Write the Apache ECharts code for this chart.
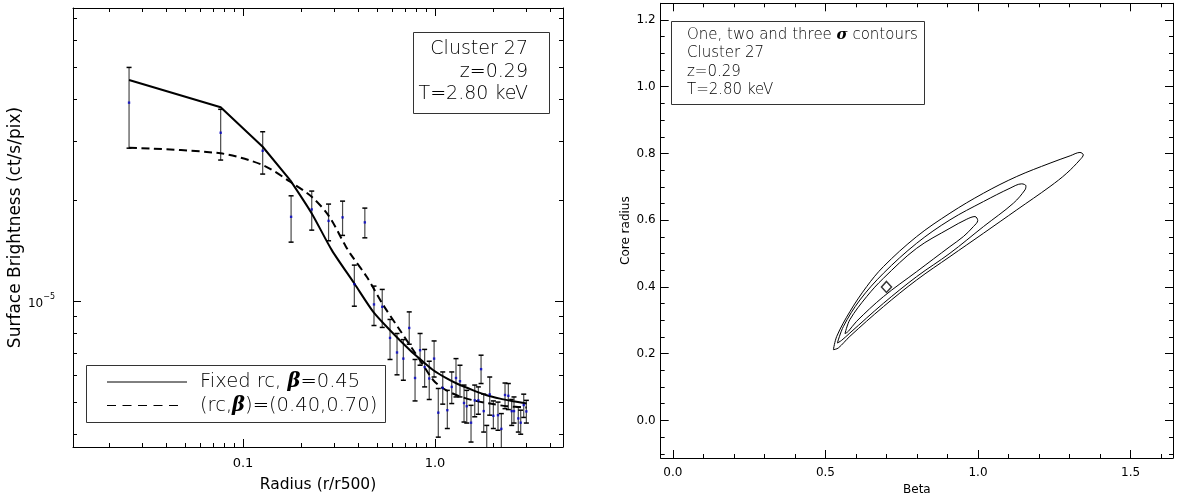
<!DOCTYPE html>
<html><head><meta charset="utf-8">
<script src="https://cdn.jsdelivr.net/npm/echarts@6/dist/echarts.min.js"></script>
<style>html,body{margin:0;padding:0;background:#fff}#c{width:1177px;height:501px}</style>
</head><body><div id="c"></div>
<script>
// ---------- Left panel: surface brightness profile (values in units of 1e-5 ct/s/pix) ----------
const SB_UNIT = 1e-5;
const radius = [0.0255, 0.0765, 0.1266, 0.178, 0.228, 0.279, 0.330, 0.380, 0.431, 0.481,
  0.531, 0.583, 0.634, 0.684, 0.734, 0.787, 0.836, 0.883, 0.933, 0.989,
  1.04, 1.097, 1.159, 1.222, 1.286, 1.349, 1.416, 1.463, 1.540, 1.610,
  1.681, 1.737, 1.793, 1.859, 1.927, 2.013, 2.128, 2.215, 2.315, 2.409,
  2.508, 2.578, 2.715, 2.794, 2.897, 2.99];
const sbMid = [3.91, 3.18, 2.81, 1.785, 1.878, 1.736, 1.778, 1.124, 1.718, 0.978,
  0.962, 0.777, 0.703, 0.674, 0.832, 0.590, 0.714, 0.636, 0.588, 0.674,
  0.465, 0.551, 0.473, 0.555, 0.590, 0.577, 0.497, 0.486, 0.434, 0.506,
  0.506, 0.627, 0.470, 0.367, 0.527, 0.455, 0.457, 0.416, 0.525, 0.522,
  0.470, 0.470, 0.447, 0.434, 0.490, 0.469];
const sbHigh = [4.98, 3.735, 3.202, 2.062, 2.130, 1.948, 1.988, 1.281, 1.895, 1.109,
  1.084, 0.882, 0.801, 0.768, 0.929, 0.670, 0.801, 0.718, 0.662, 0.761,
  0.549, 0.615, 0.542, 0.615, 0.674, 0.644, 0.562, 0.542, 0.489, 0.562,
  0.555, 0.690, 0.528, 0.426, 0.594, 0.504, 0.500, 0.462, 0.570, 0.568,
  0.509, 0.518, 0.484, 0.473, 0.528, 0.506];
const sbLow = [2.86, 2.636, 2.394, 1.500, 1.629, 1.514, 1.571, 0.966, 1.545, 0.846,
  0.835, 0.670, 0.603, 0.581, 0.744, 0.504, 0.644, 0.555, 0.509, 0.594,
  0.393, 0.493, 0.417, 0.495, 0.518, 0.518, 0.436, 0.433, 0.380, 0.452,
  0.460, 0.568, 0.407, 0.330, 0.457, 0.417, 0.412, 0.360, 0.478, 0.475,
  0.426, 0.433, 0.407, 0.401, 0.450, 0.433];
// model curves
const fixedR = [0.0255, 0.0765, 0.1266, 0.176, 0.228, 0.290, 0.380, 0.477, 0.583, 0.741,
  0.869, 0.980, 1.151, 1.297, 1.583, 1.859, 2.18, 2.557, 3.0];
const fixedS = [4.567, 3.787, 2.888, 2.297, 1.827, 1.420, 1.129, 0.929, 0.819, 0.714,
  0.659, 0.622, 0.588, 0.568, 0.542, 0.524, 0.512, 0.503, 0.495];
const fitR = [0.0255, 0.0765, 0.1266, 0.176, 0.228, 0.279, 0.340, 0.361, 0.441, 0.538,
  0.657, 0.771, 0.869, 0.980, 1.105, 1.297, 1.583, 1.934, 2.362, 3.0];
const fitS = [2.869, 2.760, 2.547, 2.271, 2.048, 1.800, 1.470, 1.388, 1.182, 0.973,
  0.819, 0.714, 0.644, 0.581, 0.549, 0.524, 0.506, 0.495, 0.486, 0.482];

const leftXMajor = [0.1, 1.0];
const leftXMajorLabels = ['0.1', '1.0'];
const leftXMinor = [0.02,0.03,0.04,0.05,0.06,0.07,0.08,0.09,0.2,0.3,0.4,0.5,0.6,0.7,0.8,0.9,2,3,4];
const leftYMajor = [1e-5];
const leftYMinor = [4e-6,5e-6,6e-6,7e-6,8e-6,9e-6,2e-5,3e-5,4e-5,5e-5,6e-5,7e-5];

// ---------- Right panel: confidence contours ----------
const c3Beta = [0.526,0.537,0.580,0.635,0.690,0.799,0.908,1.018,1.127,1.236,1.302,1.334,1.345,1.334,1.291,1.236,1.127,1.018,0.908,0.799,0.690,0.580,0.542,0.526];
const c3Rc   = [0.212,0.252,0.326,0.401,0.461,0.551,0.621,0.681,0.731,0.771,0.793,0.803,0.796,0.781,0.741,0.701,0.631,0.561,0.491,0.421,0.341,0.252,0.217,0.212];
const c2Beta = [0.539,0.559,0.613,0.690,0.799,0.908,1.018,1.105,1.143,1.157,1.154,1.116,1.018,0.908,0.799,0.690,0.580,0.553,0.539];
const c2Rc   = [0.232,0.282,0.361,0.441,0.531,0.601,0.656,0.696,0.709,0.703,0.691,0.651,0.581,0.501,0.431,0.351,0.262,0.240,0.232];
const c1Beta = [0.564,0.580,0.635,0.690,0.799,0.908,0.963,0.990,0.999,0.985,0.952,0.908,0.799,0.690,0.602,0.575,0.564];
const c1Rc   = [0.260,0.302,0.371,0.426,0.516,0.576,0.603,0.611,0.599,0.581,0.551,0.521,0.446,0.371,0.297,0.267,0.260];
const bestBeta = [0.70];
const bestRc = [0.40];

const rightXMajor = [0, 0.5, 1.0, 1.5];
const rightXMajorLabels = ['0.0', '0.5', '1.0', '1.5'];
const rightXMinor = [0.1,0.2,0.3,0.4,0.6,0.7,0.8,0.9,1.1,1.2,1.3,1.4,1.6];
const rightYMajor = [0, 0.2, 0.4, 0.6, 0.8, 1.0, 1.2];
const rightYMajorLabels = ['0.0', '0.2', '0.4', '0.6', '0.8', '1.0', '1.2'];
const rightYMinor = [-0.1,-0.05,0.05,0.1,0.15,0.25,0.3,0.35,0.45,0.5,0.55,0.65,0.7,0.75,0.85,0.9,0.95,1.05,1.1,1.15];

// ---------- helpers ----------
const AX_FONT = "'DejaVu Sans', sans-serif";
function axesFor(dim, gridIndex, type, min, max, major, minor, labelOpt, nameOpt) {
  const sides = dim === 'x' ? ['bottom', 'top'] : ['left', 'right'];
  const out = [];
  sides.forEach((pos, si) => {
    const base = {
      type: type, gridIndex: gridIndex, min: min, max: max, position: pos,
      splitLine: { show: false }, minorTick: { show: false },
      axisPointer: { show: false }
    };
    if (type === 'log') base.logBase = 10;
    const majorAx = Object.assign({}, base, {
      axisLine: { show: true, onZero: false, lineStyle: { color: '#000', width: 1 } },
      axisTick: { show: true, inside: true, length: 8, customValues: major, lineStyle: { color: '#000', width: 1 } },
      axisLabel: si === 0 ? Object.assign({ show: true, customValues: major, fontFamily: AX_FONT, color: '#000' }, labelOpt) : { show: false }
    });
    if (si === 0 && nameOpt) Object.assign(majorAx, nameOpt);
    out.push(majorAx);
    out.push(Object.assign({}, base, {
      axisLine: { show: false, onZero: false },
      axisTick: { show: true, inside: true, length: 4, customValues: minor, lineStyle: { color: '#000', width: 1 } },
      axisLabel: { show: false }
    }));
  });
  return out;
}
const pick = (vals, labels) => v => labels[vals.findIndex(m => Math.abs(m - v) < 1e-9)] || '';

const xAxes = [].concat(
  axesFor('x', 0, 'log', 0.01302, 4.64, leftXMajor, leftXMinor,
    { fontSize: 13, margin: 10, formatter: pick(leftXMajor, leftXMajorLabels) },
    { name: 'Radius (r/r500)', nameLocation: 'middle', nameGap: 30, nameTextStyle: { fontFamily: AX_FONT, fontSize: 15.5, color: '#000' } }),
  axesFor('x', 1, 'value', -0.04, 1.639, rightXMajor, rightXMinor,
    { fontSize: 12, margin: 9, formatter: pick(rightXMajor, rightXMajorLabels) },
    { name: 'Beta', nameLocation: 'middle', nameGap: 26, nameTextStyle: { fontFamily: AX_FONT, fontSize: 12, color: '#000' } })
);
const yAxes = [].concat(
  axesFor('y', 0, 'log', 3.673e-6, 7.49e-5, leftYMajor, leftYMinor,
    { margin: 18, formatter: () => '{a|10}{b|\u22125}', rich: { a: { fontFamily: AX_FONT, fontSize: 12, lineHeight: 17, verticalAlign: 'bottom', color: '#000' }, b: { fontFamily: AX_FONT, fontSize: 8, lineHeight: 17, verticalAlign: 'top', color: '#000' } } },
    { name: 'Surface Brightness (ct/s/pix)', nameLocation: 'middle', nameGap: 46, nameTextStyle: { fontFamily: AX_FONT, fontSize: 17, color: '#000' } }),
  axesFor('y', 1, 'value', -0.1126, 1.25, rightYMajor, rightYMinor,
    { fontSize: 12, margin: 5, formatter: pick(rightYMajor, rightYMajorLabels) },
    { name: 'Core radius', nameLocation: 'middle', nameGap: 29, nameTextStyle: { fontFamily: AX_FONT, fontSize: 12, color: '#000' } })
);
// axis indices: left grid x main = 0, right grid x main = 4; same for y
const LX = 0, RX = 4, LY = 0, RY = 4;

function pairs(xs, ys, scale) { return xs.map((x, i) => [x, ys[i] * (scale || 1)]); }

const errData = radius.map((r, i) => [r, sbLow[i] * SB_UNIT, sbHigh[i] * SB_UNIT]);
const fixedPts = pairs(fixedR, fixedS, SB_UNIT);

const series = [
  {
    type: 'custom', name: 'errors', xAxisIndex: LX, yAxisIndex: LY, clip: true,
    encode: { x: 0, y: [1, 2] }, data: errData, z: 3,
    renderItem: function (params, api) {
      const x = api.value(0), lo = api.value(1), hi = api.value(2);
      const pL = api.coord([x, lo]), pH = api.coord([x, hi]);
      const hw = 2.5;
      return { type: 'group', children: [
        { type: 'line', shape: { x1: pL[0], y1: pL[1], x2: pH[0], y2: pH[1] }, style: { stroke: '#4a4a4a', lineWidth: 1.2 } },
        { type: 'line', shape: { x1: pH[0] - hw, y1: pH[1], x2: pH[0] + hw, y2: pH[1] }, style: { stroke: '#000', lineWidth: 1.5 } },
        { type: 'line', shape: { x1: pL[0] - hw, y1: pL[1], x2: pL[0] + hw, y2: pL[1] }, style: { stroke: '#000', lineWidth: 1.5 } }
      ] };
    }
  },
  {
    type: 'scatter', name: 'data', xAxisIndex: LX, yAxisIndex: LY, symbol: 'rect', symbolSize: 2.4, z: 5,
    itemStyle: { color: '#0000c8' }, data: pairs(radius, sbMid, SB_UNIT), silent: true
  },
  {
    type: 'line', name: 'Fixed rc (core)', xAxisIndex: LX, yAxisIndex: LY, showSymbol: false, z: 4,
    lineStyle: { color: '#000', width: 2 }, data: fixedPts.slice(0, 4), silent: true
  },
  {
    type: 'line', name: 'Fixed rc (outer)', xAxisIndex: LX, yAxisIndex: LY, showSymbol: false, smooth: 0.25, z: 4,
    lineStyle: { color: '#000', width: 2 }, data: fixedPts.slice(3), silent: true
  },
  {
    type: 'line', name: 'fit', xAxisIndex: LX, yAxisIndex: LY, showSymbol: false, smooth: 0.3, z: 4,
    lineStyle: { color: '#000', width: 2, type: [8, 4.5] }, data: pairs(fitR, fitS, SB_UNIT), silent: true
  },
  { type: 'line', name: '3 sigma', xAxisIndex: RX, yAxisIndex: RY, showSymbol: false, smooth: 0.35,
    lineStyle: { color: '#000', width: 1 }, data: pairs(c3Beta, c3Rc), silent: true },
  { type: 'line', name: '2 sigma', xAxisIndex: RX, yAxisIndex: RY, showSymbol: false, smooth: 0.35,
    lineStyle: { color: '#000', width: 1 }, data: pairs(c2Beta, c2Rc), silent: true },
  { type: 'line', name: '1 sigma', xAxisIndex: RX, yAxisIndex: RY, showSymbol: false, smooth: 0.35,
    lineStyle: { color: '#000', width: 1 }, data: pairs(c1Beta, c1Rc), silent: true },
  { type: 'scatter', name: 'best fit', xAxisIndex: RX, yAxisIndex: RY, symbol: 'diamond', symbolSize: [10, 11],
    itemStyle: { color: 'rgba(0,0,0,0)', borderColor: '#000', borderWidth: 1.5 }, data: pairs(bestBeta, bestRc), silent: true }
];

const BOX_FONT = "'DejaVu Sans', sans-serif";
const boxText = (x, y, t, size, align) => ({
  type: 'text', x: x, y: y, z: 10,
  style: { text: t, fontFamily: BOX_FONT, fontSize: size, fontWeight: 300, fill: '#000', align: align || 'left', verticalAlign: 'middle',
    rich: { g: { fontFamily: "'DejaVu Serif', serif", fontStyle: 'italic', fontWeight: 'bold', fontSize: size, fill: '#000' } } }
});

const graphic = [
  // cluster info box (left panel)
  { type: 'rect', shape: { x: 413.5, y: 32.5, width: 136, height: 81 }, style: { fill: '#fff', stroke: '#333', lineWidth: 1 }, z: 9 },
  boxText(528, 49, 'Cluster 27', 19, 'right'),
  boxText(528, 72, 'z=0.29', 19, 'right'),
  boxText(528, 94, 'T=2.80 keV', 19, 'right'),
  // legend box (left panel)
  { type: 'rect', shape: { x: 86.5, y: 365.5, width: 299, height: 57 }, style: { fill: '#fff', stroke: '#333', lineWidth: 1 }, z: 9 },
  { type: 'line', shape: { x1: 107, y1: 382, x2: 187, y2: 382 }, style: { stroke: '#000', lineWidth: 1 }, z: 10 },
  { type: 'line', shape: { x1: 107, y1: 405.5, x2: 178, y2: 405.5 }, style: { stroke: '#000', lineWidth: 1, lineDash: [9, 6.5] }, z: 10 },
  boxText(200, 382, 'Fixed rc, {g|β}=0.45', 19.5),
  boxText(200, 405.5, '(rc,{g|β})=(0.40,0.70)', 19.5),
  // right panel text box
  { type: 'rect', shape: { x: 671.5, y: 21.5, width: 253, height: 83 }, style: { fill: '#fff', stroke: '#333', lineWidth: 1 }, z: 9 },
  boxText(687, 35, 'One, two and three {g|σ} contours', 15),
  boxText(687, 53.5, 'Cluster 27', 15),
  boxText(687, 72, 'z=0.29', 15),
  boxText(687, 90, 'T=2.80 keV', 15)
];

const chart = echarts.init(document.getElementById('c'), null, { renderer: 'canvas' });
chart.setOption({
  animation: false,
  backgroundColor: '#fff',
  grid: [
    { left: 73, top: 8, width: 490, height: 439 },
    { left: 660.7, top: 3.3, width: 512.3, height: 455 }
  ],
  xAxis: xAxes,
  yAxis: yAxes,
  series: series,
  graphic: graphic
});
</script></body></html>
